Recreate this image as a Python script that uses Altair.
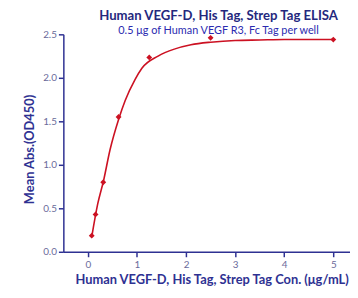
import altair as alt
import pandas as pd

# measured points
conc = [0.078, 0.156, 0.3125, 0.625, 1.25, 2.5, 5.0]
od450 = [0.185, 0.43, 0.80, 1.55, 2.235, 2.46, 2.44]

# fitted curve
curve_x = [0.078, 0.2, 0.32, 0.45, 0.63, 0.76, 0.96, 1.1, 1.43, 1.76, 2.1, 2.5, 3.0, 3.5, 4.0, 5.0]
curve_y = [0.17, 0.55, 0.82, 1.17, 1.53, 1.74, 1.98, 2.11, 2.25, 2.33, 2.38, 2.41, 2.43, 2.435, 2.44, 2.44]

x_ticks = [0, 0.5, 1, 1.5, 2, 2.5, 3, 3.5, 4, 4.5, 5]
y_ticks = [0, 0.25, 0.5, 0.75, 1.0, 1.25, 1.5, 1.75, 2.0, 2.25, 2.5]

pts = pd.DataFrame({"x": conc, "y": od450})
crv = pd.DataFrame({"x": curve_x, "y": curve_y})

NAVY = "#2E3192"
LABEL = "#6A6A9A"
RED = "#CC1122"
FONT = "Lato"

xs = alt.Scale(domain=[-0.5, 5.34], nice=False, zero=False)
ys = alt.Scale(domain=[0, 2.5], nice=False)

xaxis = alt.Axis(
    values=x_ticks,
    labelExpr="datum.value % 1 == 0 ? format(datum.value, 'd') : ''",
    title="Human VEGF-D, His Tag, Strep Tag Con. (μg/mL)",
    grid=False,
    titleX=150,
)
yaxis = alt.Axis(
    values=y_ticks,
    labelExpr="datum.value % 0.5 == 0 ? format(datum.value, '.1f') : ''",
    title="Mean Abs.(OD450)",
    grid=False,
    titleY=116,
)

line = alt.Chart(crv).mark_line(color=RED, strokeWidth=1.6, interpolate="monotone").encode(
    x=alt.X("x:Q", scale=xs, axis=xaxis),
    y=alt.Y("y:Q", scale=ys, axis=yaxis),
)
points = alt.Chart(pts).mark_point(shape="diamond", filled=True, color=RED, size=35, opacity=1).encode(
    x=alt.X("x:Q", scale=xs),
    y=alt.Y("y:Q", scale=ys),
)

chart = (
    alt.layer(line, points)
    .properties(
        width=290,
        height=220,
        autosize=alt.AutoSizeParams(type="none"),
        padding={"left": 56, "top": 25, "right": 0, "bottom": 36},
        title=alt.TitleParams(
            text="Human VEGF-D, His Tag, Strep Tag ELISA",
            subtitle="0.5 μg of Human VEGF R3, Fc Tag per well",
            anchor="middle",
            dx=12,
            offset=-7,
            font=FONT,
            fontSize=13.3,
            fontWeight="bold",
            color="#24287E",
            subtitleFont=FONT,
            subtitleFontSize=11,
            subtitleColor="#2B2BB0",
            subtitlePadding=3,
        ),
    )
    .configure_view(stroke=None)
    .configure_axis(
        domainColor=NAVY,
        domainWidth=1.5,
        tickColor=NAVY,
        tickWidth=1.5,
        tickSize=5,
        labelColor=LABEL,
        labelFont=FONT,
        labelFontSize=10,
        titleFont=FONT,
        titleFontSize=13,
        titleFontWeight="bold",
        titleColor=NAVY,
    )
    .configure_axisX(labelPadding=3, titlePadding=4)
    .configure_axisY(labelPadding=2, titlePadding=6)
)

chart.save("out.html", embed_options={"renderer": "svg", "actions": False})
